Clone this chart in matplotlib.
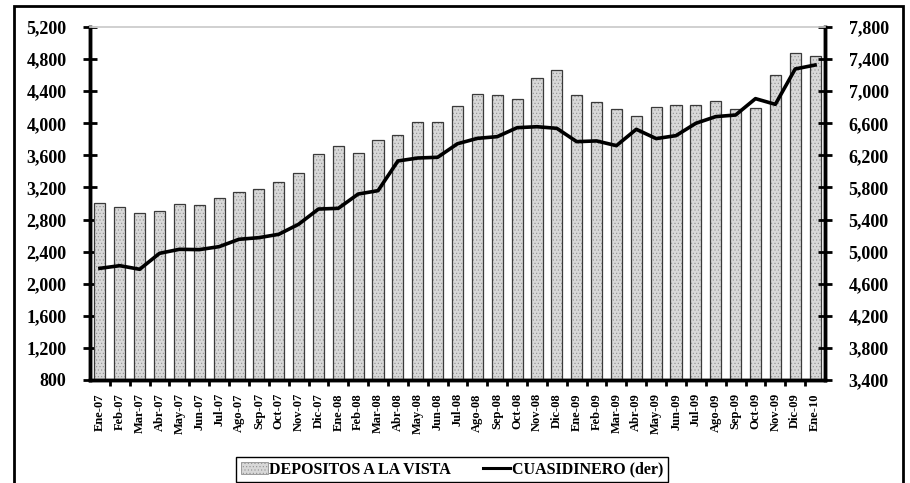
import matplotlib
matplotlib.use("Agg")
import matplotlib.pyplot as plt
import matplotlib.patches as mpatches
from matplotlib.lines import Line2D
from matplotlib.ticker import FuncFormatter, FixedLocator
import numpy as np

plt.rcParams['font.family'] = ['Liberation Serif', 'DejaVu Serif']
plt.rcParams['font.weight'] = 'bold'
plt.rcParams['hatch.linewidth'] = 0.4

# data
meses = ["Ene-07", "Feb-07", "Mar-07", "Abr-07", "May-07", "Jun-07", "Jul-07", "Ago-07",
         "Sep-07", "Oct-07", "Nov-07", "Dic-07", "Ene-08", "Feb-08", "Mar-08", "Abr-08",
         "May-08", "Jun-08", "Jul-08", "Ago-08", "Sep-08", "Oct-08", "Nov-08", "Dic-08",
         "Ene-09", "Feb-09", "Mar-09", "Abr-09", "May-09", "Jun-09", "Jul-09", "Ago-09",
         "Sep-09", "Oct-09", "Nov-09", "Dic-09", "Ene-10"]

depositos_vista = [3012, 2962, 2885, 2905, 2998, 2977, 3065, 3147,
                   3177, 3268, 3380, 3613, 3717, 3625, 3787, 3858,
                   4016, 4016, 4211, 4361, 4350, 4299, 4568, 4668,
                   4350, 4261, 4182, 4087, 4199, 4222, 4232, 4274,
                   4174, 4190, 4598, 4872, 4839]

cuasidinero = [4792, 4825, 4780, 4979, 5029, 5025, 5062, 5154,
               5174, 5216, 5341, 5531, 5540, 5718, 5760, 6130,
               6167, 6176, 6345, 6412, 6433, 6545, 6557, 6537,
               6371, 6380, 6321, 6525, 6409, 6446, 6600, 6683,
               6703, 6907, 6836, 7277, 7326]

x = np.arange(len(meses))

fig = plt.figure(figsize=(9.1, 4.83), dpi=100)
ax = fig.add_axes([90 / 910, 1 - 380 / 483, 735 / 910, 353 / 483])
ax2 = ax.twinx()

# bars: dotted fill + dark outline
ax.bar(x, depositos_vista, width=0.56, color='#d8d8d8', edgecolor='#909090',
       hatch='.....', linewidth=0, zorder=2)
ax.bar(x, depositos_vista, width=0.56, fill=False, edgecolor='#3a3a3a',
       linewidth=0.9, zorder=3)

ax2.plot(x, cuasidinero, color='black', linewidth=2.6, zorder=4)

ax.set_xlim(-0.5, len(meses) - 0.5)
ax.set_ylim(800, 5200)
ax2.set_ylim(3400, 7800)
ax.set_yticks(np.arange(800, 5201, 400))
ax2.set_yticks(np.arange(3400, 7801, 400))

fmt = FuncFormatter(lambda v, p: f"{v:,.0f}")
ax.yaxis.set_major_formatter(fmt)
ax2.yaxis.set_major_formatter(fmt)

ax.set_xticks(x)
ax.set_xticklabels(meses, rotation=90, fontsize=9, fontweight='bold')
ax.xaxis.set_minor_locator(FixedLocator(np.arange(0.5, len(meses) - 1, 1)))
ax.tick_params(axis='x', which='major', length=0, pad=9.5)
ax.tick_params(axis='x', which='minor', length=4, width=2, direction='out')

for a in (ax, ax2):
    a.tick_params(axis='y', length=10, width=2, direction='inout', labelsize=13, pad=12)
    for lab in a.get_yticklabels():
        lab.set_fontweight('bold')
    a.spines['top'].set_color('#d0d0d0')
    a.spines['top'].set_linewidth(1.2)
    a.spines['left'].set_linewidth(2.5)
    a.spines['right'].set_linewidth(2.5)
    a.spines['bottom'].set_linewidth(2.5)

# outer frame of the chart
fig.patches.append(mpatches.Rectangle((14 / 910, -0.05), 889 / 910, 1.05 - 6 / 483,
                                      transform=fig.transFigure, fill=False,
                                      edgecolor='black', linewidth=2))

handles = [mpatches.Patch(facecolor='#d8d8d8', edgecolor='#909090', hatch='.....', linewidth=0.6),
           Line2D([0], [0], color='black', linewidth=2.2)]
leg = fig.legend(handles, ["DEPOSITOS A LA VISTA", "CUASIDINERO (der)"],
                 loc='center', bbox_to_anchor=(452 / 910, 1 - 469.5 / 483), ncol=2,
                 fancybox=False, edgecolor='black', framealpha=1,
                 prop={'weight': 'bold', 'size': 11.5}, handlelength=1.7,
                 handleheight=0.7, handletextpad=0.1, columnspacing=2.0,
                 borderpad=0.3)
leg.get_frame().set_linewidth(1.0)
leg.set_zorder(5)

fig.savefig("out.png", dpi=100)
